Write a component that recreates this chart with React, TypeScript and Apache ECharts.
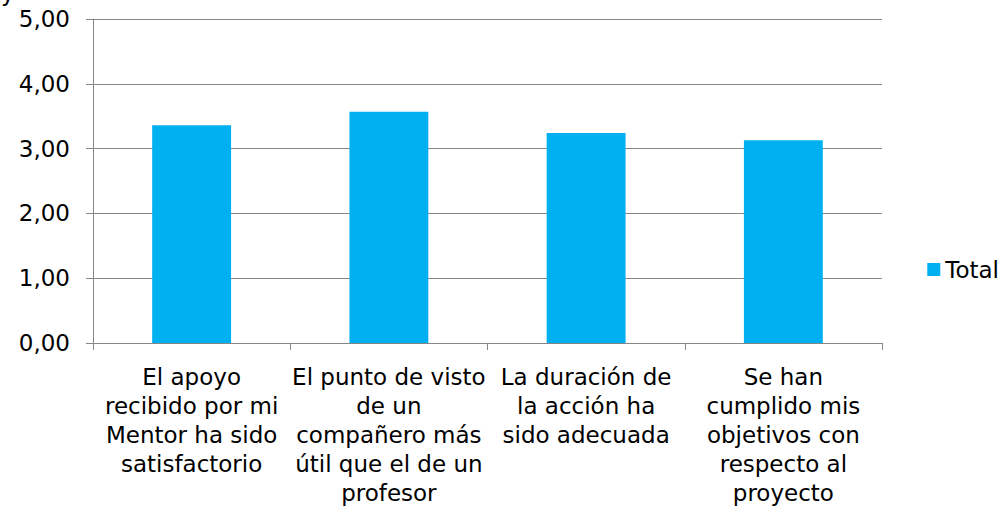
import React, { useEffect, useRef } from "react";
import * as echarts from "echarts";

const categories = [
  "El apoyo\nrecibido por mi\nMentor ha sido\nsatisfactorio",
  "El punto de visto\nde un\ncompañero más\nútil que el de un\nprofesor",
  "La duración de\nla acción ha\nsido adecuada",
  "Se han\ncumplido mis\nobjetivos con\nrespecto al\nproyecto",
];
const totalValues = [3.36, 3.57, 3.24, 3.13];
const seriesName = "Total";

export default function App() {
  const ref = useRef<HTMLDivElement>(null);
  useEffect(() => {
    document.body.style.margin = "0";
    const chart = echarts.init(ref.current!, null, { renderer: "svg" });
    const font = "'DejaVu Sans', 'Liberation Sans', Arial, sans-serif";
    chart.setOption({
      animation: false,
      textStyle: { fontFamily: font },
      grid: {
        left: 93,
        right: 125,
        top: 19,
        bottom: 167,
        containLabel: false,
        outerBoundsMode: "none",
      },
      legend: {
        right: 3,
        top: 253,
        orient: "vertical",
        itemWidth: 13,
        itemHeight: 13,
        itemGap: 8,
        icon: "rect",
        textStyle: { fontSize: 23, color: "#000", fontFamily: font },
        data: [seriesName],
      },
      graphic: [
        {
          type: "text",
          left: 1,
          top: -19,
          style: { text: "y", fontSize: 23, fill: "#000", fontFamily: font },
        },
      ],
      xAxis: {
        type: "category",
        data: categories,
        axisLine: { lineStyle: { color: "#868686", width: 1 } },
        axisTick: { show: true, length: 7, lineStyle: { color: "#868686" }, alignWithLabel: false },
        axisLabel: {
          color: "#000",
          fontSize: 23,
          lineHeight: 29,
          margin: 19,
          interval: 0,
          align: "center",
          fontFamily: font,
        },
      },
      yAxis: {
        type: "value",
        min: 0,
        max: 5,
        interval: 1,
        axisLine: { show: true, lineStyle: { color: "#868686" } },
        axisTick: { show: true, length: 7, lineStyle: { color: "#868686" } },
        splitLine: { show: true, lineStyle: { color: "#868686", width: 1 } },
        axisLabel: {
          color: "#000",
          fontSize: 23,
          margin: 23,
          fontFamily: font,
          formatter: (v: number) => v.toFixed(2).replace(".", ","),
        },
      },
      series: [
        {
          name: seriesName,
          type: "bar",
          data: totalValues,
          barWidth: "40%",
          itemStyle: { color: "#00B0F0" },
        },
      ],
    });
    return () => chart.dispose();
  }, []);
  return <div ref={ref} style={{ width: 1007, height: 510 }} />;
}
